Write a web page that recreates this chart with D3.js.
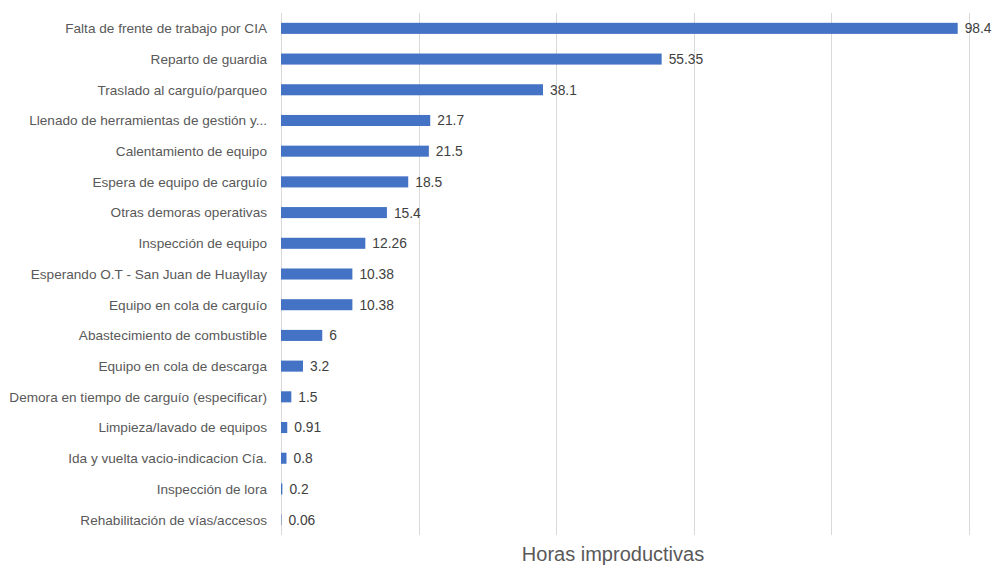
<!DOCTYPE html>
<html><head><meta charset="utf-8">
<script src="https://cdn.jsdelivr.net/npm/d3@7"></script>
<style>body{margin:0;background:#fff;} svg{display:block;}</style>
</head><body>
<script>
const categories = [
  "Falta de frente de trabajo por CIA",
  "Reparto de guardia",
  "Traslado al carguío/parqueo",
  "Llenado de herramientas de gestión y...",
  "Calentamiento de equipo",
  "Espera de equipo de carguío",
  "Otras demoras operativas",
  "Inspección de equipo",
  "Esperando O.T - San Juan de Huayllay",
  "Equipo en cola de carguío",
  "Abastecimiento de combustible",
  "Equipo en cola de descarga",
  "Demora en tiempo de carguío (especificar)",
  "Limpieza/lavado de equipos",
  "Ida y vuelta vacio-indicacion Cía.",
  "Inspección de lora",
  "Rehabilitación de vías/accesos"
];
const values = [98.4, 55.35, 38.1, 21.7, 21.5, 18.5, 15.4, 12.26, 10.38, 10.38, 6, 3.2, 1.5, 0.91, 0.8, 0.2, 0.06];
const valueLabels = ["98.4","55.35","38.1","21.7","21.5","18.5","15.4","12.26","10.38","10.38","6","3.2","1.5","0.91","0.8","0.2","0.06"];
const xTicks = [0, 20, 40, 60, 80, 100];
const axisTitle = "Horas improductivas";

const W = 993, H = 565;
const mLeft = 281, mRight = 968.7, mTop = 13, mBottom = 535;
const font = "Liberation Sans, Arial, sans-serif";

const svg = d3.select("body").append("svg").attr("width", W).attr("height", H);

const x = d3.scaleLinear().domain([0, 100]).range([mLeft, mRight]);
const y = d3.scaleBand().domain(categories).range([mTop, mBottom]).paddingInner(0.64).paddingOuter(0.32);

// gridlines
svg.append("g").selectAll("line").data(xTicks).join("line")
  .attr("x1", d => Math.round(x(d)) + 0.5).attr("x2", d => Math.round(x(d)) + 0.5)
  .attr("y1", mTop).attr("y2", mBottom)
  .attr("stroke", "#d9d9d9").attr("stroke-width", 1);

// bars
svg.append("g").selectAll("rect").data(values).join("rect")
  .attr("x", x(0))
  .attr("y", (d, i) => y(categories[i]))
  .attr("width", d => x(d) - x(0))
  .attr("height", y.bandwidth())
  .attr("fill", "#4472c4");

// value labels
svg.append("g").selectAll("text").data(values).join("text")
  .attr("x", d => x(d) + 7)
  .attr("y", (d, i) => y(categories[i]) + y.bandwidth() / 2)
  .attr("dy", "0.36em")
  .attr("font-family", font).attr("font-size", 13.8)
  .attr("fill", "#404040")
  .text((d, i) => valueLabels[i]);

// category labels
svg.append("g").selectAll("text").data(categories).join("text")
  .attr("x", 267)
  .attr("y", d => y(d) + y.bandwidth() / 2)
  .attr("dy", "0.36em")
  .attr("text-anchor", "end")
  .attr("font-family", font).attr("font-size", 13.6)
  .attr("fill", "#595959")
  .text(d => d);

// axis title
svg.append("text")
  .attr("x", 613).attr("y", 561)
  .attr("text-anchor", "middle")
  .attr("font-family", font).attr("font-size", 20)
  .attr("fill", "#595959")
  .text(axisTitle);
</script>
</body></html>
